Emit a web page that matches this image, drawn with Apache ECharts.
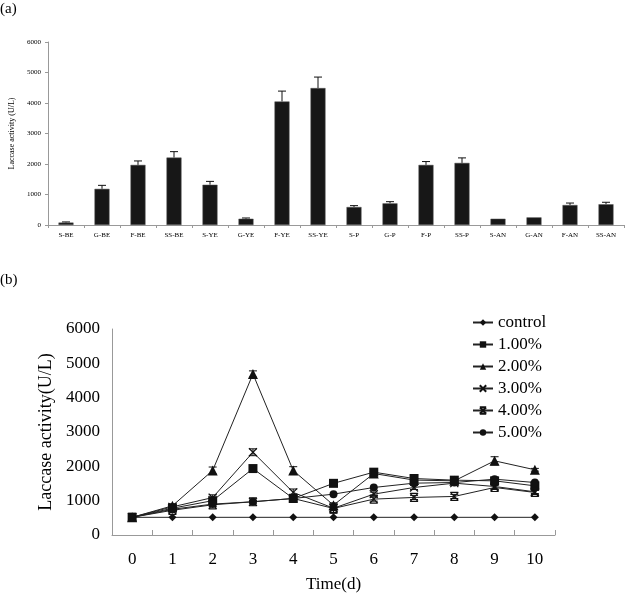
<!DOCTYPE html>
<html>
<head>
<meta charset="utf-8">
<script src="https://cdn.jsdelivr.net/npm/echarts@6/dist/echarts.min.js"></script>
<style>html,body{margin:0;padding:0;background:#fff}#c{width:625px;height:594px}</style>
</head>
<body>
<div id="c"></div>
<script>
// ---- Panel (a) data ----
const barCats = ['S-BE','G-BE','F-BE','SS-BE','S-YE','G-YE','F-YE','SS-YE','S-P','G-P','F-P','SS-P','S-AN','G-AN','F-AN','SS-AN'];
const barVals = [80, 1185, 1970, 2210, 1320, 205, 4050, 4490, 590, 710, 1970, 2035, 205, 250, 655, 680];
const barErr  = [20, 115, 130, 195, 110, 25, 340, 360, 45, 55, 110, 165, 0, 0, 65, 65];
const barTicks = [0, 1000, 2000, 3000, 4000, 5000, 6000];

// ---- Panel (b) data ----
const days = ['0','1','2','3','4','5','6','7','8','9','10'];
const control = [515, 515, 515, 515, 515, 515, 515, 515, 515, 515, 515];
const p100 = [515, 780, 1000, 1935, 1064, 1505, 1830, 1645, 1597, 1577, 1432];
const p200 = [515, 850, 1880, 4690, 1880, 870, 1790, 1600, 1577, 2160, 1900];
const p300 = [515, 820, 1090, 2410, 1240, 780, 1190, 1384, 1510, 1413, 1258];
const p400 = [515, 720, 880, 968, 1064, 774, 1045, 1094, 1123, 1384, 1239];
const p500 = [515, 750, 900, 968, 1064, 1190, 1384, 1510, 1529, 1626, 1529];
const err200 = [0, 60, 100, 90, 110, 60, 60, 50, 50, 120, 40];
const err300 = [0, 60, 80, 100, 100, 150, 60, 60, 50, 70, 50];
const err400 = [0, 40, 50, 40, 50, 60, 60, 60, 60, 60, 60];

const FONT = 'Liberation Serif';
const chart = echarts.init(document.getElementById('c'), null, {renderer: 'canvas'});

function errSeries(xIdx, yIdx, vals, errs, both, cap) {
  return {
    type: 'custom', xAxisIndex: xIdx, yAxisIndex: yIdx, silent: true, z: 1,
    data: vals.map((v, i) => [i, v, errs[i]]),
    encode: {x: 0, y: 1},
    renderItem: function (params, api) {
      const i = api.value(0), v = api.value(1), e = api.value(2);
      if (!e) return null;
      const top = api.coord([i, v + e]);
      const bot = api.coord([i, both ? v - e : v]);
      const st = {stroke: '#111', lineWidth: 1};
      const ch = [
        {type: 'line', shape: {x1: top[0], y1: top[1], x2: bot[0], y2: bot[1]}, style: st},
        {type: 'line', shape: {x1: top[0] - cap, y1: top[1], x2: top[0] + cap, y2: top[1]}, style: st}
      ];
      if (both) ch.push({type: 'line', shape: {x1: bot[0] - cap, y1: bot[1], x2: bot[0] + cap, y2: bot[1]}, style: st});
      return {type: 'group', children: ch};
    }
  };
}

const crossPath = 'path://M0,0L10,10M10,0L0,10';
const starPath = 'path://M0,0L10,10M10,0L0,10M0,0L10,0M0,10L10,10';

function lineSeries(name, data, symbol, size, hollow) {
  return {
    name: name, type: 'line', xAxisIndex: 1, yAxisIndex: 1, data: data,
    symbol: symbol, symbolSize: size, z: 3,
    lineStyle: {color: '#222', width: 1},
    itemStyle: hollow ? {color: '#fff', borderColor: '#111', borderWidth: 1.2} : {color: '#111', borderColor: '#111', borderWidth: 0},
    emphasis: {disabled: true}
  };
}

const option = {
  animation: false,
  backgroundColor: '#fff',
  graphic: [
    {type: 'text', left: 0, top: 2, style: {text: '(a)', font: '15px "' + FONT + '"', fill: '#000'}},
    {type: 'text', left: 0, top: 273, style: {text: '(b)', font: '15px "' + FONT + '"', fill: '#000'}}
  ],
  grid: [
    {left: 48, top: 42, width: 576, height: 183},
    {left: 112, top: 329, width: 443, height: 207}
  ],
  legend: {
    orient: 'vertical', left: 467, top: 309, itemGap: 5, itemWidth: 20, itemHeight: 8,
    textStyle: {fontFamily: FONT, fontSize: 17, color: '#000', lineHeight: 17},
    data: ['control', '1.00%', '2.00%', '3.00%', '4.00%', '5.00%']
  },
  xAxis: [
    {
      type: 'category', gridIndex: 0, data: barCats,
      axisLine: {lineStyle: {color: '#999', width: 1}},
      axisTick: {show: true, length: 3, lineStyle: {color: '#999'}},
      axisLabel: {fontFamily: FONT, fontSize: 7, color: '#000', margin: 7, interval: 0}
    },
    {
      type: 'category', gridIndex: 1, data: days,
      name: 'Time(d)', nameLocation: 'middle', nameGap: 41,
      nameTextStyle: {fontFamily: FONT, fontSize: 17, color: '#000'},
      axisLine: {lineStyle: {color: '#999', width: 1}},
      axisTick: {show: true, inside: true, length: 5, lineStyle: {color: '#999'}},
      axisLabel: {fontFamily: FONT, fontSize: 17, color: '#000', margin: 16, interval: 0}
    }
  ],
  yAxis: [
    {
      type: 'value', gridIndex: 0, min: 0, max: 6000, interval: 1000,
      name: 'Laccase activity (U/L)', nameLocation: 'middle', nameGap: 30,
      nameTextStyle: {fontFamily: FONT, fontSize: 8, color: '#000'},
      axisLine: {show: true, lineStyle: {color: '#999', width: 1}},
      axisTick: {show: true, length: 3, lineStyle: {color: '#999'}},
      axisLabel: {fontFamily: FONT, fontSize: 7, color: '#000', margin: 7,
        formatter: v => barTicks.includes(v) ? String(v) : ''},
      splitLine: {show: false}
    },
    {
      type: 'value', gridIndex: 1, min: 0, max: 6000, interval: 1000,
      name: 'Laccase activity(U/L)', nameLocation: 'middle', nameGap: 57,
      nameTextStyle: {fontFamily: FONT, fontSize: 18, color: '#000'},
      axisLine: {show: true, lineStyle: {color: '#999', width: 1}},
      axisTick: {show: false},
      axisLabel: {fontFamily: FONT, fontSize: 17, color: '#000', margin: 12,
        formatter: v => String(v)},
      splitLine: {show: false}
    }
  ],
  series: [
    {
      type: 'bar', xAxisIndex: 0, yAxisIndex: 0, data: barVals, barWidth: 15,
      itemStyle: {color: '#171717', borderColor: '#555', borderWidth: 0.5}, z: 2
    },
    errSeries(0, 0, barVals, barErr, false, 4),
    lineSeries('control', control, 'diamond', 8, false),
    lineSeries('1.00%', p100, 'rect', 9, false),
    lineSeries('2.00%', p200, 'triangle', 10, false),
    lineSeries('3.00%', p300, crossPath, 8, true),
    lineSeries('4.00%', p400, starPath, 8, true),
    lineSeries('5.00%', p500, 'circle', 8, false),
    errSeries(1, 1, p200, err200, true, 4),
    errSeries(1, 1, p300, err300, true, 4),
    errSeries(1, 1, p400, err400, true, 4)
  ]
};
chart.setOption(option);
</script>
</body>
</html>
